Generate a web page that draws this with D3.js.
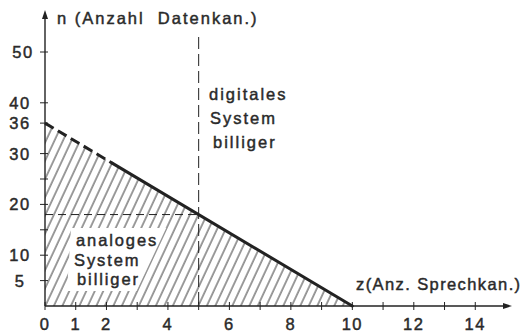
<!DOCTYPE html>
<html><head><meta charset="utf-8">
<script src="https://cdn.jsdelivr.net/npm/d3@7"></script>
<style>
html,body{margin:0;padding:0;background:#fff;}
text{font-family:"Liberation Sans",Arial,sans-serif;fill:#2a2a2a;stroke:#2a2a2a;stroke-width:0.45px;}
</style></head>
<body>
<svg id="c" width="527" height="335"></svg>
<script>
// ---- data ----
const xTicks = [0,1,2,3,4,5,6,7,8,9,10,11,12,13,14];
const xTickLabels = [0,1,2,4,6,8,10,12,14];
const yTicks = [5,10,15,20,25,30,36,40,50];
const yTickLabels = [5,10,20,30,36,40,50];
const boundaryZ = [0,10];
const boundaryN = [36,0];
const dashedUntilZ = 2.2;
const breakEvenZ = 5;
const breakEvenN = 18;
const yTitle = "n (Anzahl  Datenkan.)";
const xTitle = "z(Anz. Sprechkan.)";
const digitalLabel = ["digitales","System","billiger"];
const analogLabel = ["analoges","System","billiger"];

const svg = d3.select("#c");
const ink = "#222";
const x = d3.scaleLinear().domain([0,15]).range([45,506]);
const y = d3.scaleLinear().domain([0,50]).range([306,52]);
const nAt = z => boundaryN[0] + (boundaryN[1]-boundaryN[0])*(z-boundaryZ[0])/(boundaryZ[1]-boundaryZ[0]);

// hatch pattern
const defs = svg.append("defs");
const pat = defs.append("pattern").attr("id","hatch").attr("patternUnits","userSpaceOnUse")
  .attr("width",7.7).attr("height",20).attr("patternTransform","rotate(25)");
pat.append("line").attr("x1",1).attr("y1",-2).attr("x2",1).attr("y2",22)
  .attr("stroke","#3a3a3a").attr("stroke-width",1);

// hatched triangle
const tri = [[boundaryZ[0],boundaryN[0]],[boundaryZ[1],boundaryN[1]],[boundaryZ[0],0]];
svg.append("path").attr("d", d3.line().x(d=>x(d[0])).y(d=>y(d[1]))(tri)+"Z")
  .attr("fill","url(#hatch)");

// analog label with white cut-out
const ag = svg.append("g");
const agBg = ag.append("polygon").attr("fill","#fff");
const at = ag.append("text").attr("font-size",16.5).attr("letter-spacing",1.9);
analogLabel.forEach((s,i)=>{
  at.append("tspan").attr("x", [76,74,77][i]).attr("y", 246 + i*19.5).text(s);
});
const bb = at.node().getBBox();
const t0 = bb.y-3, b0 = bb.y+bb.height+3;
const xr = bb.x+bb.width+8;
agBg.attr("points", [[bb.x-3,t0],[xr,t0],[xr-0.47*(b0-t0),b0],[bb.x-7,b0]].map(p=>p.join(",")).join(" "));

// dashed guide lines
svg.append("line").attr("x1",x(0)).attr("x2",x(breakEvenZ)).attr("y1",y(breakEvenN)).attr("y2",y(breakEvenN))
  .attr("stroke",ink).attr("stroke-width",1).attr("stroke-dasharray","8,5");
svg.append("line").attr("x1",x(breakEvenZ)).attr("x2",x(breakEvenZ)).attr("y1",37).attr("y2",y(0))
  .attr("stroke",ink).attr("stroke-width",1).attr("stroke-dasharray","12,5");

// boundary line
svg.append("line").attr("x1",x(boundaryZ[0])).attr("y1",y(boundaryN[0]))
  .attr("x2",x(dashedUntilZ)).attr("y2",y(nAt(dashedUntilZ)))
  .attr("stroke",ink).attr("stroke-width",3).attr("stroke-dasharray","10,5");
svg.append("line").attr("x1",x(dashedUntilZ)).attr("y1",y(nAt(dashedUntilZ)))
  .attr("x2",x(boundaryZ[1])).attr("y2",y(boundaryN[1]))
  .attr("stroke",ink).attr("stroke-width",3).attr("stroke-linecap","round");

// axes
svg.append("line").attr("x1",x(0)).attr("x2",508).attr("y1",y(0)).attr("y2",y(0)).attr("stroke",ink).attr("stroke-width",1.4);
svg.append("line").attr("x1",x(0)).attr("x2",x(0)).attr("y1",y(0)).attr("y2",14).attr("stroke",ink).attr("stroke-width",1.4);
svg.append("path").attr("d",`M${x(0)-3},19 L${x(0)},10 L${x(0)+3},19 Z`).attr("fill",ink);
svg.append("path").attr("d",`M503,${y(0)-3} L512,${y(0)} L503,${y(0)+3} Z`).attr("fill",ink);

svg.selectAll(".xt").data(xTicks).enter().append("line")
  .attr("x1",d=>x(d)).attr("x2",d=>x(d)).attr("y1",y(0)-4).attr("y2",y(0)+4).attr("stroke",ink).attr("stroke-width",1);
svg.selectAll(".yt").data(yTicks).enter().append("line")
  .attr("x1",x(0)-5).attr("x2",x(0)+3).attr("y1",d=>y(d)).attr("y2",d=>y(d)).attr("stroke",ink).attr("stroke-width",1);

svg.selectAll(".xl").data(xTickLabels).enter().append("text")
  .attr("x",d=>x(d)).attr("y",330).attr("text-anchor","middle").attr("font-size",16.5).attr("letter-spacing",1.5)
  .text(d=>d);
svg.selectAll(".yl").data(yTickLabels).enter().append("text")
  .attr("x",d=> d===50?23:20).attr("y",d=>y(d)+6).attr("text-anchor","middle").attr("font-size",16.5).attr("letter-spacing",1.5)
  .text(d=>d);

// titles
svg.append("text").attr("x",57).attr("y",24).attr("font-size",16.5).attr("letter-spacing",2).style("white-space","pre").text(yTitle);
svg.append("text").attr("x",356).attr("y",290).attr("font-size",16.5).attr("letter-spacing",1.4).text(xTitle);

// digital label
const dt = svg.append("text").attr("font-size",16.5).attr("letter-spacing",2);
digitalLabel.forEach((s,i)=>{
  dt.append("tspan").attr("x",[209,210,213][i]).attr("y",100+i*24).text(s);
});
</script>
</body></html>
